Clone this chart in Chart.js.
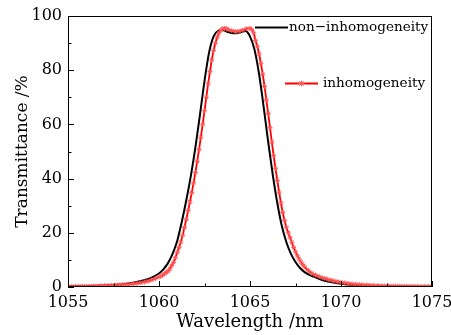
<!DOCTYPE html>
<html>
<head>
<meta charset="utf-8">
<script src="https://cdn.jsdelivr.net/npm/chart.js@4.4.0/dist/chart.umd.min.js"></script>
<style>
  html, body { margin: 0; padding: 0; background: #fff; }
  #wrap { width: 451px; height: 335px; }
</style>
</head>
<body>
<div id="wrap"><canvas id="c" width="451" height="335"></canvas></div>
<script>
// --- data ---
const blackWl = [1055, 1056, 1057, 1058, 1058.5, 1059, 1059.5, 1060, 1060.25, 1060.5, 1060.75, 1061, 1061.25, 1061.5, 1061.75, 1062, 1062.25, 1062.5, 1062.75, 1063, 1063.25, 1063.5, 1063.75, 1064, 1064.25, 1064.5, 1064.75, 1065, 1065.25, 1065.5, 1065.75, 1066, 1066.25, 1066.5, 1066.75, 1067, 1067.25, 1067.5, 1067.75, 1068, 1068.5, 1069, 1069.5, 1070, 1071, 1072, 1073, 1075];
const blackT  = [0.2, 0.35, 0.6, 1.0, 1.5, 2.2, 3.2, 5.0, 6.6, 8.9, 12.3, 17, 24, 32, 41, 51.5, 63.5, 76, 86.5, 92.5, 94.5, 94.8, 94.2, 93.7, 93.6, 94.0, 94.5, 92.5, 87.5, 78.5, 66.5, 53.5, 41.5, 31, 22.5, 16.5, 12.2, 9.2, 7.0, 5.5, 3.8, 2.5, 1.7, 1.2, 0.6, 0.35, 0.2, 0.1];

const redWl = [1055, 1055.2, 1055.4, 1055.6, 1055.8, 1056, 1056.2, 1056.4, 1056.6, 1056.8, 1057, 1057.2, 1057.4, 1057.6, 1057.8, 1058, 1058.2, 1058.4, 1058.6, 1058.8, 1059, 1059.2, 1059.4, 1059.6, 1059.8, 1060, 1060.1, 1060.2, 1060.3, 1060.4, 1060.5, 1060.6, 1060.7, 1060.8, 1060.9, 1061, 1061.1, 1061.2, 1061.3, 1061.4, 1061.5, 1061.6, 1061.7, 1061.8, 1061.9, 1062, 1062.1, 1062.2, 1062.3, 1062.4, 1062.5, 1062.6, 1062.7, 1062.8, 1062.9, 1063, 1063.1, 1063.2, 1063.3, 1063.4, 1063.5, 1063.6, 1063.7, 1063.8, 1064, 1064.2, 1064.4, 1064.6, 1064.8, 1065, 1065.1, 1065.2, 1065.3, 1065.4, 1065.5, 1065.6, 1065.7, 1065.8, 1065.9, 1066, 1066.1, 1066.2, 1066.3, 1066.4, 1066.5, 1066.6, 1066.7, 1066.8, 1066.9, 1067, 1067.1, 1067.2, 1067.3, 1067.4, 1067.5, 1067.6, 1067.7, 1067.8, 1067.9, 1068, 1068.2, 1068.4, 1068.6, 1068.8, 1069, 1069.2, 1069.4, 1069.6, 1069.8, 1070, 1070.2, 1070.4, 1070.6, 1070.8, 1071, 1071.2, 1071.4, 1071.6, 1071.8, 1072, 1072.2, 1072.4, 1072.6, 1072.8, 1073, 1073.2, 1073.4, 1073.6, 1073.8, 1074, 1074.2, 1074.4, 1074.6, 1074.8, 1075];
const redT  = [0.15, 0.17, 0.2, 0.22, 0.25, 0.27, 0.3, 0.35, 0.4, 0.45, 0.5, 0.55, 0.6, 0.67, 0.75, 0.85, 0.95, 1.05, 1.2, 1.35, 1.55, 1.85, 2.2, 2.6, 3.1, 3.7, 4.0, 4.4, 4.9, 5.4, 5.9, 6.7, 7.9, 9.1, 10.8, 12.8, 14.6, 16.6, 19.1, 22, 25, 28.2, 31.4, 34.8, 38.4, 42.2, 46.4, 50.7, 55.3, 60.1, 65, 70, 75, 79.5, 83.8, 87.3, 90, 92.2, 93.8, 94.8, 95.3, 95.4, 95.3, 95.0, 94.6, 94.3, 94.4, 94.8, 95.3, 95.4, 95.0, 93.8, 91, 88.8, 86, 82.5, 78.5, 74, 69, 64, 58.8, 53.5, 48.5, 43.8, 39.3, 35, 31, 27.5, 24.5, 22, 20, 18.2, 16.5, 14.6, 13, 11.5, 10.3, 9.2, 8.3, 7.4, 6.1, 5.1, 4.4, 3.9, 3.4, 3.0, 2.6, 2.25, 1.95, 1.7, 1.5, 1.3, 1.15, 1.0, 0.9, 0.8, 0.72, 0.65, 0.57, 0.5, 0.46, 0.42, 0.38, 0.35, 0.32, 0.3, 0.27, 0.25, 0.23, 0.22, 0.21, 0.2, 0.18, 0.17, 0.16];

const xTicks = [1055, 1060, 1065, 1070, 1075];
const yTicks = [0, 20, 40, 60, 80, 100];
const seriesNames = ['non\u2212inhomogeneity', 'inhomogeneity'];

const serif = '"DejaVu Serif", serif';

function toPts(xs, ys) {
  return xs.map((x, i) => ({ x: x, y: ys[i] }));
}

// frame + inward ticks + legend
const framePlugin = {
  id: 'frame',
  afterDatasetsDraw(chart) {
    const { ctx, chartArea: a, scales } = chart;
    const xs = scales.x, ys = scales.y;
    ctx.save();
    ctx.strokeStyle = '#000';
    ctx.lineWidth = 1;
    ctx.strokeRect(a.left + 0.5, a.top + 0.5, a.right - a.left - 1, a.bottom - a.top - 1);
    ctx.beginPath();
    for (let v = 1055; v <= 1075; v += 2.5) {
      const px = Math.round(xs.getPixelForValue(v)) + 0.5;
      const len = (v % 5 === 0) ? 6 : 3.5;
      ctx.moveTo(px, a.bottom);
      ctx.lineTo(px, a.bottom - len);
    }
    for (let v = 0; v <= 100; v += 10) {
      const py = Math.round(ys.getPixelForValue(v)) + 0.5;
      const len = (v % 20 === 0) ? 6 : 3.5;
      ctx.moveTo(a.left, py);
      ctx.lineTo(a.left + len, py);
    }
    ctx.stroke();

    // legend
    ctx.font = '13.6px ' + serif;
    ctx.fillStyle = '#000';
    ctx.textBaseline = 'middle';
    ctx.lineWidth = 2;
    ctx.beginPath();
    ctx.moveTo(255, 27.5); ctx.lineTo(288, 27.5);
    ctx.stroke();
    ctx.fillText(seriesNames[0], 289, 27);

    ctx.strokeStyle = '#ff0000';
    ctx.lineWidth = 1.8;
    ctx.beginPath();
    ctx.moveTo(285, 83.5); ctx.lineTo(318, 83.5);
    ctx.stroke();
    // star marker
    ctx.strokeStyle = '#ff5555';
    ctx.lineWidth = 1;
    ctx.beginPath();
    const cx = 301.5, cy = 83.5, r = 3;
    for (let k = 0; k < 4; k++) {
      const ang = k * Math.PI / 4;
      ctx.moveTo(cx - r * Math.cos(ang), cy - r * Math.sin(ang));
      ctx.lineTo(cx + r * Math.cos(ang), cy + r * Math.sin(ang));
    }
    ctx.stroke();
    ctx.fillText(seriesNames[1], 323, 83);
    ctx.restore();
  }
};

new Chart(document.getElementById('c'), {
  type: 'line',
  data: {
    datasets: [
      {
        label: seriesNames[1],
        data: toPts(redWl, redT),
        borderColor: '#ff0000',
        borderWidth: 1.8,
        pointStyle: 'star',
        pointRadius: 2.5,
        pointBorderColor: '#ff5555',
        pointBorderWidth: 1,
        pointBackgroundColor: '#ff5555',
        cubicInterpolationMode: 'monotone',
        order: 0
      },
      {
        label: seriesNames[0],
        data: toPts(blackWl, blackT),
        borderColor: '#000',
        borderWidth: 2,
        pointRadius: 0,
        cubicInterpolationMode: 'monotone',
        order: 1
      }
    ]
  },
  options: {
    responsive: false,
    animation: false,
    layout: { padding: { left: 12, right: 19, top: 16, bottom: 0 } },
    plugins: { legend: { display: false }, tooltip: { enabled: false } },
    scales: {
      x: {
        type: 'linear',
        min: 1055, max: 1075,
        afterBuildTicks: (s) => { s.ticks = xTicks.map(v => ({ value: v })); },
        afterFit: (s) => { s.height = 48; s.paddingLeft = 0; s.paddingRight = 0; },
        grid: { display: false, drawTicks: false },
        border: { display: false },
        ticks: { padding: 6, color: '#000', font: { family: serif, size: 16 }, maxRotation: 0, callback: (v) => String(v) },
        title: { display: true, text: 'Wavelength /nm', color: '#000', font: { family: serif, size: 18 }, padding: { top: 0, bottom: 2 } }
      },
      y: {
        min: 0, max: 100,
        afterBuildTicks: (s) => { s.ticks = yTicks.map(v => ({ value: v })); },
        afterFit: (s) => { s.width = 56; s.paddingTop = 0; s.paddingBottom = 0; },
        grid: { display: false, drawTicks: false },
        border: { display: false },
        ticks: { padding: 6, color: '#000', font: { family: serif, size: 16 } },
        title: { display: true, text: 'Transmittance /%', color: '#000', font: { family: serif, size: 17 }, padding: { top: 0, bottom: 4 } }
      }
    }
  },
  plugins: [framePlugin]
});
</script>
</body>
</html>
